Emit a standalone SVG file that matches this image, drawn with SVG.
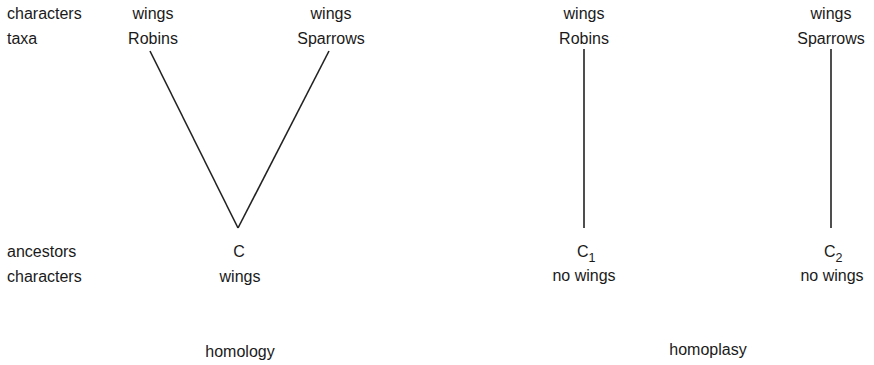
<svg xmlns="http://www.w3.org/2000/svg" width="874" height="365" viewBox="0 0 874 365">
<style>
text{font-family:"Liberation Sans",Arial,sans-serif;font-size:16px;fill:#1a1a1a}
.m{text-anchor:middle}
.sub{font-size:12.5px}
line{stroke:#222;stroke-width:1.6;fill:none}
</style>
<rect width="874" height="365" fill="#fff"/>
<g id="row-labels">
<text x="7" y="19">characters</text>
<text x="7" y="44">taxa</text>
<text x="7" y="257">ancestors</text>
<text x="7" y="282">characters</text>
</g>
<g id="h-robins"><text class="m" x="153" y="19">wings</text><text class="m" x="153" y="44">Robins</text></g>
<g id="h-sparrows"><text class="m" x="331" y="19">wings</text><text class="m" x="331" y="44">Sparrows</text></g>
<g id="h-ancestor"><text class="m" x="239" y="257">C</text><text class="m" x="240" y="282">wings</text></g>
<g id="p-robins"><text class="m" x="584" y="19">wings</text><text class="m" x="584" y="44">Robins</text></g>
<g id="p-sparrows"><text class="m" x="831" y="19">wings</text><text class="m" x="831" y="44">Sparrows</text></g>
<g id="p-c1"><text x="577" y="257">C<tspan class="sub" dy="5">1</tspan></text><text class="m" x="584" y="281">no wings</text></g>
<g id="p-c2"><text x="824" y="257">C<tspan class="sub" dy="5">2</tspan></text><text class="m" x="832" y="281">no wings</text></g>
<g id="captions"><text class="m" x="240" y="357">homology</text><text class="m" x="708" y="355">homoplasy</text></g>
<g id="connectors">
<line x1="150" y1="51" x2="238" y2="228"/>
<line x1="329" y1="51" x2="238" y2="228"/>
<line x1="584" y1="49" x2="584" y2="228"/>
<line x1="831" y1="49" x2="831" y2="228"/>
</g>
</svg>
